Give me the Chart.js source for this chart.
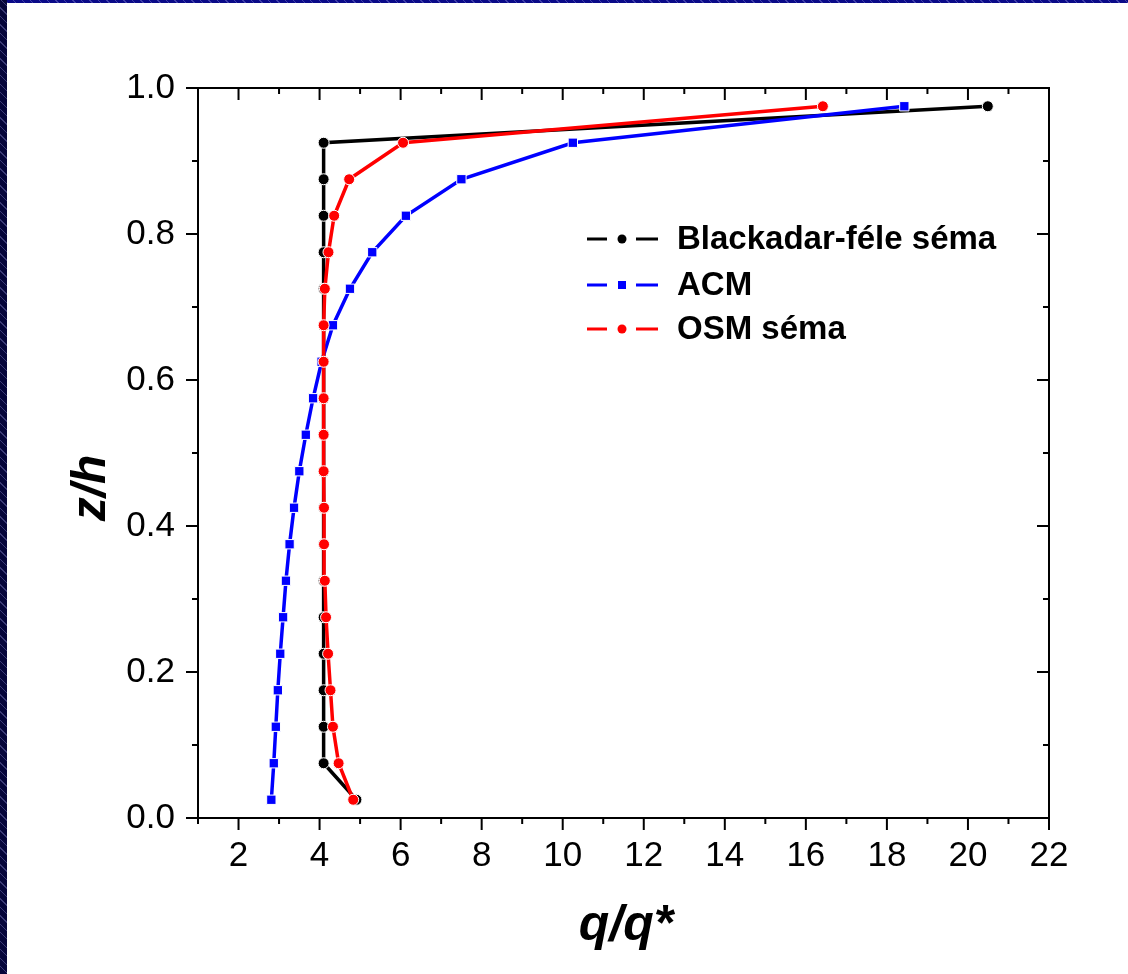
<!DOCTYPE html>
<html>
<head>
<meta charset="utf-8">
<script src="https://cdn.jsdelivr.net/npm/chart.js@4.4.1/dist/chart.umd.min.js"></script>
<style>
  html, body { margin: 0; padding: 0; background: #ffffff; overflow: hidden; }
  #wrap { position: relative; width: 1128px; height: 974px; }
  #c { position: absolute; left: 0; top: 0; }
  .bar { position: absolute; background-color: #06065a;
    background-image: repeating-linear-gradient(45deg, rgba(255,255,255,0) 0px, rgba(255,255,255,0) 5px, rgba(160,160,230,0.35) 5px, rgba(160,160,230,0.35) 6px); }
  #topbar { left: 0; top: 0; width: 1128px; height: 3px; background-color: #0a0a88; }
  #leftbar { left: 0; top: 0; width: 7px; height: 974px;
    background-color: #05053a; }
</style>
</head>
<body>
<div id="wrap">
  <canvas id="c" width="1128" height="974"></canvas>
  <div id="topbar" class="bar"></div>
  <div id="leftbar" class="bar"></div>
</div>
<script>
// ---- data ----
const zLevels = [0.025, 0.075, 0.125, 0.175, 0.225, 0.275, 0.325, 0.375, 0.425, 0.475,
                 0.525, 0.575, 0.625, 0.675, 0.725, 0.775, 0.825, 0.875, 0.925, 0.975];
const blackadar = [4.91, 4.10, 4.10, 4.10, 4.10, 4.10, 4.10, 4.10, 4.10, 4.10,
                   4.10, 4.10, 4.10, 4.10, 4.10, 4.10, 4.10, 4.10, 4.10, 20.49];
const acm = [2.81, 2.87, 2.92, 2.97, 3.03, 3.10, 3.17, 3.26, 3.37, 3.50,
             3.66, 3.84, 4.05, 4.33, 4.75, 5.30, 6.13, 7.50, 10.25, 18.43];
const osm = [4.83, 4.47, 4.33, 4.27, 4.21, 4.16, 4.13, 4.11, 4.11, 4.10,
             4.10, 4.10, 4.10, 4.10, 4.13, 4.22, 4.36, 4.73, 6.06, 16.42];
const seriesNames = ['Blackadar-féle séma', 'ACM', 'OSM séma'];
const xTicks = [2, 4, 6, 8, 10, 12, 14, 16, 18, 20, 22];
const xMinorTicks = [1, 3, 5, 7, 9, 11, 13, 15, 17, 19, 21];
const yTicks = [0.0, 0.2, 0.4, 0.6, 0.8, 1.0];
const yMinorTicks = [0.1, 0.3, 0.5, 0.7, 0.9];
const xTitle = 'q/q*';
const yTitle = 'z/h';

const toPts = (xs) => xs.map((x, i) => ({ x: x, y: zLevels[i] }));
const FONT = '"Liberation Sans", Arial, sans-serif';

const framePlugin = {
  id: 'frame',
  afterDatasetsDraw(chart) {
    const ctx = chart.ctx;
    const xs = chart.scales.x, ys = chart.scales.y;
    const L = chart.chartArea.left, R = chart.chartArea.right, T = chart.chartArea.top, B = chart.chartArea.bottom;
    ctx.save();
    ctx.strokeStyle = '#000';
    ctx.lineWidth = 2;
    ctx.lineCap = 'square';
    ctx.beginPath();
    ctx.rect(L, T, R - L, B - T);
    ctx.stroke();
    ctx.lineCap = 'butt';
    ctx.beginPath();
    const major = 12, minor = 6;
    xTicks.forEach(v => { const p = xs.getPixelForValue(v);
      ctx.moveTo(p, B); ctx.lineTo(p, B + major);
      ctx.moveTo(p, T); ctx.lineTo(p, T + major); });
    xMinorTicks.forEach(v => { const p = xs.getPixelForValue(v);
      ctx.moveTo(p, B); ctx.lineTo(p, B + minor);
      ctx.moveTo(p, T); ctx.lineTo(p, T + minor); });
    yTicks.forEach(v => { const p = ys.getPixelForValue(v);
      ctx.moveTo(L, p); ctx.lineTo(L - major, p);
      ctx.moveTo(R, p); ctx.lineTo(R - major, p); });
    yMinorTicks.forEach(v => { const p = ys.getPixelForValue(v);
      ctx.moveTo(L, p); ctx.lineTo(L - minor, p);
      ctx.moveTo(R, p); ctx.lineTo(R - minor, p); });
    ctx.stroke();

    // axis titles
    ctx.fillStyle = '#000';
    ctx.font = 'italic bold 50px ' + FONT;
    ctx.textAlign = 'center';
    ctx.textBaseline = 'alphabetic';
    ctx.fillText(xTitle, 626, 940);
    ctx.save();
    ctx.translate(105, 488);
    ctx.rotate(-Math.PI / 2);
    ctx.font = 'italic bold 48px ' + FONT;
    ctx.fillText(yTitle, 0, 0);
    ctx.restore();

    // legend
    const rows = [239, 285, 329];
    const cols = ['#000000', '#0000ff', '#ff0000'];
    const styles = ['circle', 'rect', 'circle'];
    ctx.font = 'bold 33px ' + FONT;
    ctx.textAlign = 'left';
    ctx.textBaseline = 'middle';
    rows.forEach((y, i) => {
      ctx.strokeStyle = cols[i];
      ctx.fillStyle = cols[i];
      ctx.lineWidth = 3;
      ctx.beginPath();
      ctx.moveTo(587, y); ctx.lineTo(607, y);
      ctx.moveTo(636, y); ctx.lineTo(658, y);
      ctx.stroke();
      ctx.beginPath();
      if (styles[i] === 'circle') { ctx.arc(622, y, 4.5, 0, Math.PI * 2); ctx.fill(); }
      else { ctx.fillRect(618, y - 4, 8, 8); }
      ctx.fillStyle = '#000';
      ctx.fillText(seriesNames[i], 677, y + 1);
    });
    ctx.restore();
  }
};

new Chart(document.getElementById('c'), {
  type: 'scatter',
  data: {
    datasets: [
      { label: seriesNames[0], data: toPts(blackadar), showLine: true, order: 3,
        borderColor: '#000000', backgroundColor: '#000000', borderWidth: 3.5,
        pointStyle: 'circle', pointRadius: 5.5, pointBorderColor: '#ffffff', pointBorderWidth: 1,
        pointBackgroundColor: '#000000' },
      { label: seriesNames[1], data: toPts(acm), showLine: true, order: 2,
        borderColor: '#0000ff', backgroundColor: '#0000ff', borderWidth: 3.5,
        pointStyle: 'rect', pointRadius: 6.6, pointBorderColor: '#ffffff', pointBorderWidth: 1,
        pointBackgroundColor: '#0000ff' },
      { label: seriesNames[2], data: toPts(osm), showLine: true, order: 1,
        borderColor: '#ff0000', backgroundColor: '#ff0000', borderWidth: 3.5,
        pointStyle: 'circle', pointRadius: 5.5, pointBorderColor: '#ffffff', pointBorderWidth: 1,
        pointBackgroundColor: '#ff0000' }
    ]
  },
  options: {
    responsive: false,
    animation: false,
    devicePixelRatio: 1,
    layout: { padding: { top: 88, right: 79, left: 0, bottom: 0 } },
    plugins: { legend: { display: false }, tooltip: { enabled: false } },
    elements: { line: { tension: 0 } },
    scales: {
      x: {
        type: 'linear', min: 1, max: 22,
        afterBuildTicks: (s) => { s.ticks = xTicks.map(v => ({ value: v })); },
        afterFit: (s) => { s.height = 156; },
        grid: { display: false, drawTicks: false },
        border: { display: false },
        ticks: { color: '#000', padding: 17, font: { family: FONT, size: 35 }, maxRotation: 0,
                 callback: (v) => String(v) }
      },
      y: {
        type: 'linear', min: 0, max: 1,
        afterBuildTicks: (s) => { s.ticks = yTicks.map(v => ({ value: v })); },
        afterFit: (s) => { s.width = 198; },
        grid: { display: false, drawTicks: false },
        border: { display: false },
        ticks: { color: '#000', padding: 23, font: { family: FONT, size: 35 },
                 callback: (v) => Number(v).toFixed(1) }
      }
    }
  },
  plugins: [framePlugin]
});
</script>
</body>
</html>
